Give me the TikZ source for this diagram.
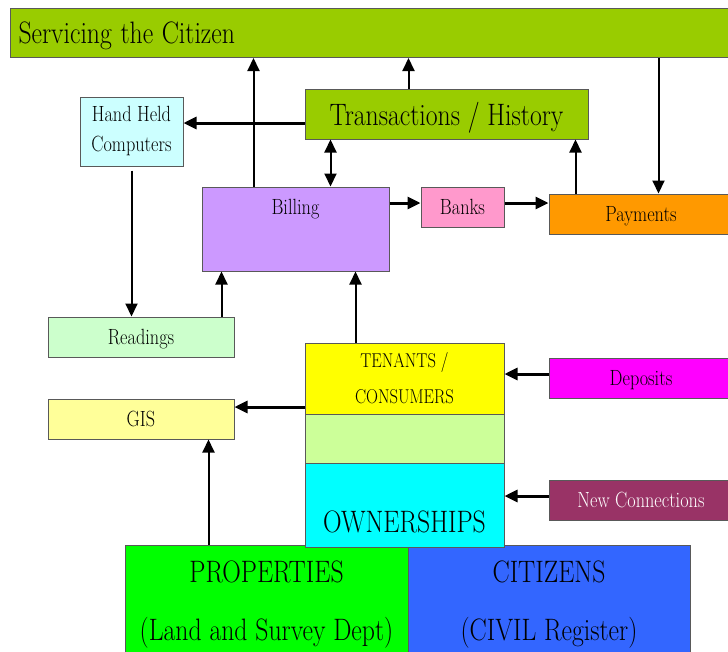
\documentclass[tikz,border=0pt]{standalone}
\usepackage{xcolor}
\usepackage{graphicx}
\usetikzlibrary{arrows.meta}
\definecolor{olivegreen}{HTML}{99CC00}
\definecolor{paleaqua}{HTML}{CCFFFF}
\definecolor{lilac}{HTML}{CC99FF}
\definecolor{pinkish}{HTML}{FF99CC}
\definecolor{orangey}{HTML}{FF9900}
\definecolor{mint}{HTML}{CCFFCC}
\definecolor{paleyellow}{HTML}{FFFF99}
\definecolor{limepale}{HTML}{CCFF99}
\definecolor{plum}{HTML}{993366}
\definecolor{royal}{HTML}{3366FF}
\definecolor{lemon}{HTML}{FFFF00}
\definecolor{fuchsia}{HTML}{FF00FF}
\definecolor{aqua}{HTML}{00FFFF}
\definecolor{brightgreen}{HTML}{00FF00}
\newcommand\fsz[2]{\fontsize{#1}{#2}\selectfont}
\newcommand\sq[1]{\scalebox{0.83}[1]{#1}}
\tikzset{
	blk/.style={draw=black!65, line width=1pt, inner sep=0pt},
	oneline/.style={blk, text depth=0pt},
	arr/.style={-{Triangle[length=13pt,width=12pt]}, line width=2pt},
	thickarr/.style={arr, line width=3pt}
}

\begin{document}
\begin{tikzpicture}[x=1pt, y=-1pt]
	\useasboundingbox (0,0) rectangle (728,651);
	\clip (0,0) rectangle (728,651);

	% Top bar
	\node[oneline, fill=olivegreen, anchor=north west, minimum height=49pt, text width=714pt, inner xsep=8pt, align=left, font=\fsz{31}{36}] (serv) at (10,8) {\sq{Servicing the Citizen}};

	% Upper row
	\node[oneline, fill=olivegreen, minimum width=283pt, minimum height=50pt, font=\fsz{31}{36}] (trans) at (446.5,114) {\sq{Transactions / History}};
	\node[blk, fill=paleaqua, minimum width=103pt, minimum height=69pt, align=center, font=\fsz{22}{30}] (hh) at (131.5,131.5) {\sq{Hand Held}\\\sq{Computers}};
	\node[blk, fill=lilac, minimum width=187pt, minimum height=84pt,
		label={[anchor=north, inner sep=0pt, yshift=-13pt, font=\fsz{22}{26}]north:\sq{Billing}}] (bill) at (295.5,229) {};
	\node[oneline, fill=pinkish, minimum width=83pt, minimum height=40pt, font=\fsz{22}{26}] (banks) at (462.5,207) {\sq{Banks}};
	\node[oneline, fill=orangey, minimum width=184pt, minimum height=40pt, font=\fsz{22}{26}] (pay) at (641,214) {\sq{Payments}};

	% Left column
	\node[oneline, fill=mint, minimum width=186pt, minimum height=40pt, font=\fsz{22}{26}] (read) at (141,337) {\sq{Readings}};
	\node[oneline, fill=paleyellow, minimum width=186pt, minimum height=40pt, font=\fsz{22}{26}] (gis) at (141,419) {\sq{GIS}};

	% Right column
	\node[oneline, fill=fuchsia, minimum width=184pt, minimum height=40pt, font=\fsz{22}{26}] (dep) at (641,378) {\sq{Deposits}};
	\node[oneline, fill=plum, text=white, minimum width=184pt, minimum height=40pt, font=\fsz{22}{26}] (newc) at (641,500) {\sq{New Connections}};

	% Bottom registers
	\node[blk, fill=brightgreen, minimum width=283pt, minimum height=116pt,
		label={[anchor=north, inner sep=0pt, yshift=-16pt, align=center, font=\fsz{31}{58}]north:{\sq{PROPERTIES}\\\sq{(Land and Survey Dept)}}}] (prop) at (266.5,603) {};
	\node[blk, fill=royal, minimum width=282pt, minimum height=116pt,
		label={[anchor=north, inner sep=0pt, yshift=-16pt, align=center, font=\fsz{31}{58}]north:{\sq{CITIZENS}\\\sq{(CIVIL Register)}}}] (citz) at (549,603) {};

	% Central stack
	\node[blk, fill=lemon, minimum width=199pt, minimum height=71pt, align=center, font=\fsz{20}{36}] (ten) at (404.5,378.5) {\sq{TENANTS /}\\\sq{CONSUMERS}};
	\node[blk, fill=limepale, minimum width=199pt, minimum height=49pt] (mid) at (404.5,438.5) {};
	\node[blk, fill=aqua, minimum width=199pt, minimum height=84pt,
		label={[anchor=south, inner sep=0pt, yshift=14pt, font=\fsz{31}{36}]south:\sq{OWNERSHIPS}}] (own) at (404.5,505) {};

	% Links to the top bar
	\draw[arr] ([xshift=52pt]bill.north west) coordinate (b1) -- (b1 |- serv.south);
	\draw[arr] ([xshift=104pt]trans.north west) coordinate (t1) -- (t1 |- serv.south);
	\draw[arr] ([xshift=110pt]pay.north west) coordinate (p1) (p1 |- serv.south) -- (p1);

	% Transactions links
	\draw[thickarr] ([yshift=-9pt]trans.west) coordinate (t2) -- (t2 -| hh.east);
	\draw[arr, {Triangle[length=13pt,width=12pt]}-{Triangle[length=13pt,width=12pt]}] ([xshift=26pt]trans.south west) coordinate (t3) -- (t3 |- bill.north);
	\draw[arr] ([xshift=27pt]pay.north west) coordinate (p2) -- (p2 |- trans.south);

	% Money flow
	\draw[thickarr] ([yshift=4pt]banks.west) coordinate (k1) (k1 -| bill.east) -- (k1);
	\draw[thickarr] (k1 -| banks.east) -- (k1 -| pay.west);

	% Readings
	\draw[arr, shorten <=4pt] (hh.south) -- (hh.south |- read.north);
	\draw[arr] ([xshift=174pt]read.north west) coordinate (r1) -- (r1 |- bill.south);

	% Tenants / consumers
	\draw[arr] ([xshift=51pt]ten.north west) coordinate (c1) -- (c1 |- bill.south);
	\draw[thickarr] ([yshift=-28.5pt]ten.west) coordinate (c2) -- (c2 -| gis.east);
	\draw[thickarr] ([yshift=4pt]dep.west) coordinate (d1) -- (d1 -| ten.east);
	\draw[thickarr] ([yshift=4pt]newc.west) coordinate (n1) -- (n1 -| own.east);

	% Properties to GIS
	\draw[arr] ([xshift=84pt]prop.north west) coordinate (g1) -- (g1 |- gis.south);
\end{tikzpicture}
\end{document}
